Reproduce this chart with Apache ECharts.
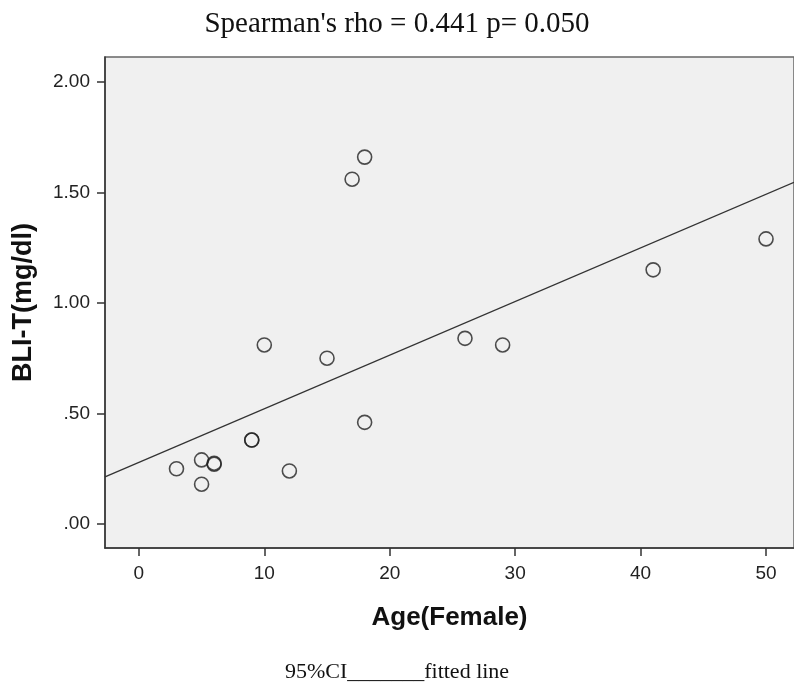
<!DOCTYPE html>
<html>
<head>
<meta charset="utf-8">
<script src="https://cdn.jsdelivr.net/npm/echarts@6/dist/echarts.min.js"></script>
<style>
  html, body { margin: 0; padding: 0; background: #fff; }
  #chart { width: 794px; height: 688px; }
</style>
</head>
<body>
<div id="chart"></div>
<script>
// ages and BLI-T values (overlapping points listed twice)
var ages = [3, 5, 5, 6, 6, 9, 9, 10, 12, 15, 17, 18, 18, 26, 29, 41, 50];
var bliT = [0.25, 0.29, 0.18, 0.27, 0.275, 0.38, 0.38, 0.81, 0.24, 0.75, 1.56, 1.66, 0.46, 0.84, 0.81, 1.15, 1.29];
// fitted line end points (at the plot edges)
var fitX = [-2.7, 52.23];
var fitY = [0.213, 1.546];
var xTicks = [0, 10, 20, 30, 40, 50];
var yTicks = [0, 0.5, 1, 1.5, 2];
var yTickText = ['.00', '.50', '1.00', '1.50', '2.00'];

var points = [];
for (var i = 0; i < ages.length; i++) {
  points.push([ages[i], bliT[i]]);
}
var fitLine = [[fitX[0], fitY[0]], [fitX[1], fitY[1]]];

var myChart = echarts.init(document.getElementById('chart'));
var option = {
  animation: false,
  title: {
    text: "Spearman's rho = 0.441 p= 0.050",
    left: 'center',
    top: 5,
    textStyle: {
      fontFamily: 'Liberation Serif',
      fontSize: 29,
      fontWeight: 'normal',
      color: '#111'
    }
  },
  grid: {
    left: 105,
    top: 57,
    right: -2,
    bottom: 140,
    show: true,
    backgroundColor: '#f0f0f0',
    borderColor: '#666',
    borderWidth: 1.5
  },
  xAxis: {
    type: 'value',
    min: fitX[0],
    max: fitX[1],
    splitLine: { show: false },
    axisLine: { show: true, onZero: false, lineStyle: { color: '#333', width: 1.5 } },
    axisTick: { show: true, length: 8, customValues: xTicks, lineStyle: { color: '#333', width: 1.5 } },
    axisLabel: {
      customValues: xTicks,
      margin: 16,
      fontFamily: 'Liberation Sans',
      fontSize: 19,
      color: '#222'
    },
    name: 'Age(Female)',
    nameLocation: 'middle',
    nameGap: 57,
    nameTextStyle: {
      fontFamily: 'Liberation Sans',
      fontSize: 26,
      fontWeight: 'bold',
      color: '#111'
    }
  },
  yAxis: {
    type: 'value',
    min: -0.1086,
    max: 2.113,
    splitLine: { show: false },
    axisLine: { show: true, onZero: false, lineStyle: { color: '#333', width: 1.5 } },
    axisTick: { show: true, length: 8, customValues: yTicks, lineStyle: { color: '#333', width: 1.5 } },
    axisLabel: {
      customValues: yTicks,
      margin: 15,
      fontFamily: 'Liberation Sans',
      fontSize: 19,
      color: '#222',
      formatter: function (v) {
        var k = yTicks.indexOf(Math.round(v * 100) / 100);
        return k >= 0 ? yTickText[k] : '';
      }
    },
    name: 'BLI-T(mg/dl)',
    nameLocation: 'middle',
    nameGap: 68,
    nameTextStyle: {
      fontFamily: 'Liberation Sans',
      fontSize: 27,
      fontWeight: 'bold',
      color: '#111'
    }
  },
  graphic: [
    {
      type: 'text',
      left: 'center',
      top: 661,
      style: {
        text: '95%CI_______fitted line',
        font: '22px "Liberation Serif"',
        fill: '#111'
      }
    }
  ],
  series: [
    {
      type: 'line',
      data: fitLine,
      showSymbol: false,
      silent: true,
      lineStyle: { color: '#333', width: 1.3 }
    },
    {
      type: 'scatter',
      data: points,
      symbol: 'circle',
      symbolSize: 14,
      itemStyle: {
        color: 'rgba(0,0,0,0)',
        borderColor: '#222',
        borderWidth: 1.6
      }
    }
  ]
};
myChart.setOption(option);
</script>
</body>
</html>
